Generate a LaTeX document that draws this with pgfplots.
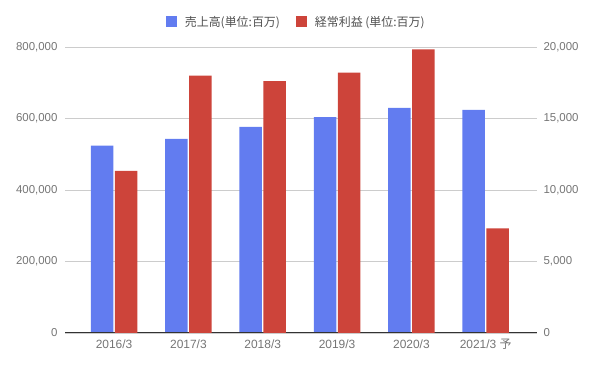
\documentclass[border=0pt]{standalone}
\usepackage{pgfplots}
\pgfplotsset{compat=1.18}
\usepackage{fontspec}
\setmainfont{Liberation Sans}
\newfontfamily\jp{Noto Sans CJK JP}
\definecolor{cblue}{RGB}{98,124,240}
\definecolor{cred}{RGB}{205,68,58}
\definecolor{tickgray}{RGB}{117,117,117}
\definecolor{leggray}{RGB}{80,80,80}
\definecolor{gridgray}{RGB}{204,204,204}
\begin{document}
\begin{tikzpicture}
\path[use as bounding box] (0,0) rectangle (596bp,369bp);
\pgfplotsset{
  base/.style={
    at={(65bp,36bp)}, anchor=south west, scale only axis,
    width=472bp, height=286bp,
    xmin=-0.66, xmax=5.69, ymin=0,
    ybar, bar width=22.5bp,
    major tick length=0pt,
    tick style={draw=none},
    y axis line style={draw=none},
    scaled y ticks=false,
    yticklabel style={font=\fontsize{11.5}{13}\selectfont, text=tickgray,
      /pgf/number format/fixed, /pgf/number format/1000 sep={,},
      /pgf/number format/assume math mode=true},
    xticklabel style={font=\fontsize{12}{14}\selectfont, text=tickgray, yshift=-3bp},
  }
}
\begin{axis}[base,
  ymax=800000,
  axis y line*=left,
  axis x line=none,
  ytick={0,200000,400000,600000,800000},
  ymajorgrids, grid style={gridgray, line width=0.8bp},
  yticklabel style={xshift=-4bp},
]
\addplot[fill=cblue, draw=none, bar shift=-12bp] coordinates {
(0,523900) (1,542700) (2,576500) (3,604000) (4,629400) (5,623800)};
\end{axis}
\begin{axis}[base,
  ymax=20000,
  axis y line*=right,
  axis x line*=bottom,
  x axis line style={draw=black!80, line width=1bp},
  ytick={0,5000,10000,15000,20000},
  yticklabel style={xshift=3bp},
  xtick={0,1,2,3,4,5},
  xticklabels={2016/3,2017/3,2018/3,2019/3,2020/3,{2021/3 {\jp 予}}},
  legend style={at={(0.49,1.088)}, anchor=center, draw=none, fill=none,
    font=\fontsize{12}{14}\selectfont, text=leggray,
    legend columns=2,
    /tikz/every even column/.append style={column sep=14bp}},
  legend image code/.code={\fill[#1] (0bp,-5.5bp) rectangle (11bp,5.5bp); \path (17bp,0bp);},
]
\addlegendimage{fill=cblue, draw=none}
\addlegendentry{\jp 売上高(単位:百万)}
\addplot[fill=cred, draw=none, bar shift=12bp] coordinates {
(0,11330) (1,17990) (2,17620) (3,18200) (4,19840) (5,7320)};
\addlegendentry{\jp 経常利益 (単位:百万)}
\end{axis}
\end{tikzpicture}
\end{document}
